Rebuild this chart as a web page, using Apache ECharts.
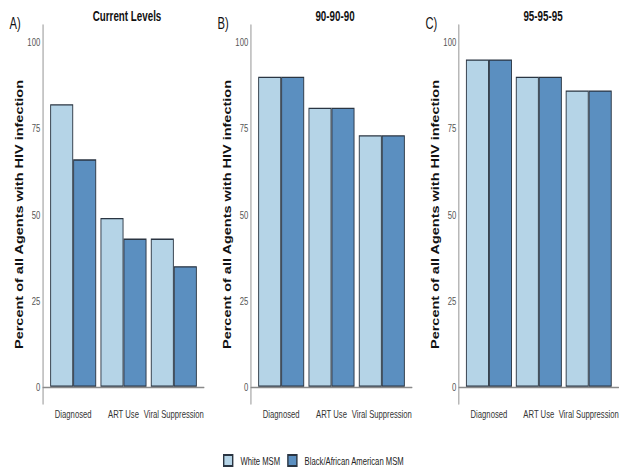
<!DOCTYPE html>
<html>
<head>
<meta charset="utf-8">
<script src="https://cdn.jsdelivr.net/npm/echarts@6/dist/echarts.min.js"></script>
<style>
  html, body { margin: 0; padding: 0; background: #fff; overflow: hidden; }
  /* the figure is horizontally condensed, so draw it wide and squeeze it */
  #chart { width: 887px; height: 468px; transform: scaleX(0.7); transform-origin: 0 0; }
</style>
</head>
<body>
<div id="chart"></div>
<script>
// categories and values
const categories = ['Diagnosed', 'ART Use', 'Viral Suppression'];
const panelTitles = ['Current Levels', '90-90-90', '95-95-95'];
const panelLetters = ['A)', 'B)', 'C)'];
const seriesNames = ['White MSM', 'Black/African American MSM'];
const yTicks = [0, 25, 50, 75, 100];

const whiteCurrent = [82, 49, 43];
const blackCurrent = [66, 43, 35];
const white90 = [90, 81, 73];
const black90 = [90, 81, 73];
const white95 = [95, 90, 86];
const black95 = [95, 90, 86];

const panels = [
  { white: whiteCurrent, black: blackCurrent },
  { white: white90, black: black90 },
  { white: white95, black: black95 }
];

const S = 0.7;
const px = v => v / S;   // screen x -> chart x
const colors = ['#b5d4e7', '#5b8fc0'];
const font = "'Liberation Sans', Arial, sans-serif";
const gridLefts = [43, 251, 459].map(px);
const gridW = px(161);

const chart = echarts.init(document.getElementById('chart'), null, { renderer: 'svg' });

const grids = [], xAxes = [], yAxes = [], series = [], titles = [];
panels.forEach((p, i) => {
  grids.push({ left: gridLefts[i], top: 25, width: gridW, height: 379 });
  xAxes.push({
    type: 'value', gridIndex: i, min: 0.4, max: 3.6,
    splitLine: { show: false },
    axisLine: { show: true, lineStyle: { color: '#8a8a8a', width: 1.3 } },
    axisTick: { show: false },
    axisLabel: {
      customValues: [1, 2, 3],
      hideOverlap: false,
      formatter: v => categories[Math.round(v) - 1] || '',
      fontFamily: font, fontSize: 11, color: '#333', margin: 4
    }
  });
  yAxes.push({
    type: 'value', gridIndex: i, min: -5, max: 105,
    splitLine: { show: false },
    axisLine: { show: true, lineStyle: { color: '#8a8a8a', width: 1.3 } },
    axisTick: { show: false },
    axisLabel: {
      customValues: yTicks,
      fontFamily: font, fontSize: 11, color: '#555', margin: 4
    },
    name: 'Percent of all Agents with HIV infection',
    nameLocation: 'middle',
    nameGap: 21,
    nameTextStyle: { fontFamily: font, fontWeight: 'bold', fontSize: 14.5, color: '#111' }
  });
  [p.white, p.black].forEach((vals, k) => {
    series.push({
      type: 'bar', name: seriesNames[k],
      xAxisIndex: i, yAxisIndex: i,
      barWidth: px(23), barGap: '0%',
      itemStyle: { color: colors[k], borderColor: '#2a3542', borderWidth: 1.3 },
      data: vals.map((v, j) => [j + 1, v])
    });
  });
  titles.push({
    text: panelTitles[i], left: gridLefts[i] + gridW / 2, top: 4, textAlign: 'center',
    textStyle: { fontFamily: font, fontWeight: 'bold', fontSize: 14, color: '#111' }
  });
  titles.push({
    text: panelLetters[i], left: gridLefts[i] - px(37), top: 10,
    textStyle: { fontFamily: font, fontWeight: 'normal', fontSize: 16, color: '#111' }
  });
});

chart.setOption({
  animation: false,
  title: titles,
  grid: grids,
  xAxis: xAxes,
  yAxis: yAxes,
  legend: {
    data: seriesNames,
    left: px(223), top: 454, padding: 0,
    icon: 'rect', itemWidth: px(9), itemHeight: 11, itemGap: 10,
    textStyle: { fontFamily: font, fontSize: 11, color: '#222', padding: [0, 0, 0, 6] }
  },
  series: series
});
</script>
</body>
</html>
